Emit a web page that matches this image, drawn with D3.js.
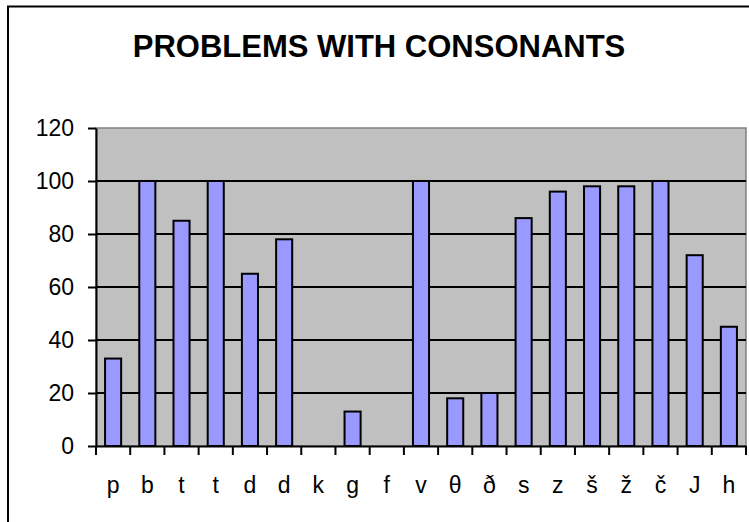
<!DOCTYPE html>
<html>
<head>
<meta charset="utf-8">
<script src="https://cdn.jsdelivr.net/npm/d3@7"></script>
<style>
  body { margin: 0; background: #fff; }
  svg { display: block; font-family: "Liberation Sans", Arial, sans-serif; }
</style>
</head>
<body>
<div id="chart-container"></div>
<script>
// chart data
const consonants = ["p", "b", "t", "t", "d", "d", "k", "g", "f", "v", "θ", "ð", "s", "z", "š", "ž", "č", "J", "h"];
const problems = [33, 100, 85, 100, 65, 78, 0, 13, 0, 100, 18, 20, 86, 96, 98, 98, 100, 72, 45];
const yTicks = [0, 20, 40, 60, 80, 100, 120];
const title = "PROBLEMS WITH CONSONANTS";

const W = 749, H = 522;
const plot = {left: 96, right: 746, top: 128, bottom: 446};

const svg = d3.select("#chart-container")
  .append("svg")
    .attr("width", W)
    .attr("height", H);

// outer chart frame (cut off at right and bottom)
svg.append("rect")
  .attr("x", 8).attr("y", 6.5)
  .attr("width", W + 20).attr("height", H + 20)
  .attr("fill", "#fff")
  .attr("stroke", "#000")
  .attr("stroke-width", 2);

// title
svg.append("text")
  .attr("x", 379).attr("y", 57)
  .attr("text-anchor", "middle")
  .style("font-size", "31px")
  .style("font-weight", "bold")
  .text(title);

// scales
const x = d3.scaleBand()
  .domain(d3.range(consonants.length))
  .range([plot.left, plot.right])
  .paddingInner(0.53)
  .paddingOuter(0.265);
const y = d3.scaleLinear()
  .domain([0, 120])
  .range([plot.bottom, plot.top]);

// plot area background
svg.append("rect")
  .attr("x", plot.left).attr("y", plot.top)
  .attr("width", plot.right - plot.left)
  .attr("height", plot.bottom - plot.top)
  .attr("fill", "#c0c0c0")
  .attr("stroke", "#808080")
  .attr("stroke-width", 1.5);

// gridlines
svg.append("g")
  .selectAll("line")
  .data(yTicks.filter(t => t > 0 && t < 120))
  .enter().append("line")
    .attr("x1", plot.left).attr("x2", plot.right)
    .attr("y1", d => y(d)).attr("y2", d => y(d))
    .attr("stroke", "#000")
    .attr("stroke-width", 2);

// bars
svg.append("g")
  .selectAll("rect")
  .data(problems)
  .enter().append("rect")
    .attr("x", (d, i) => x(i))
    .attr("y", d => y(d))
    .attr("width", x.bandwidth())
    .attr("height", d => y(0) - y(d))
    .attr("fill", d => d > 0 ? "#9999ff" : "none")
    .attr("stroke", d => d > 0 ? "#000" : "none")
    .attr("stroke-width", 2);

// y axis
const yAxis = svg.append("g")
  .attr("transform", `translate(${plot.left},0)`)
  .call(d3.axisLeft(y).tickValues(yTicks).tickSize(8).tickPadding(14).tickSizeOuter(0));
yAxis.select(".domain").attr("stroke-width", 2);
yAxis.selectAll(".tick line").attr("stroke-width", 2);
yAxis.selectAll("text").style("font-size", "23px").attr("fill", "#000");

// x axis: labels at band centres, ticks on band edges
const xAxis = svg.append("g")
  .attr("transform", `translate(0,${plot.bottom})`)
  .call(d3.axisBottom(x).tickFormat(i => consonants[i]).tickSize(0).tickPadding(31).tickSizeOuter(0));
xAxis.select(".domain").attr("stroke-width", 2);
xAxis.selectAll("text").style("font-size", "23px").attr("fill", "#000");

const edges = d3.range(consonants.length + 1).map(i => plot.left + i * x.step());
svg.append("g")
  .selectAll("line")
  .data(edges)
  .enter().append("line")
    .attr("x1", d => d).attr("x2", d => d)
    .attr("y1", plot.bottom).attr("y2", plot.bottom + 9)
    .attr("stroke", "#000")
    .attr("stroke-width", 2);
</script>
</body>
</html>
